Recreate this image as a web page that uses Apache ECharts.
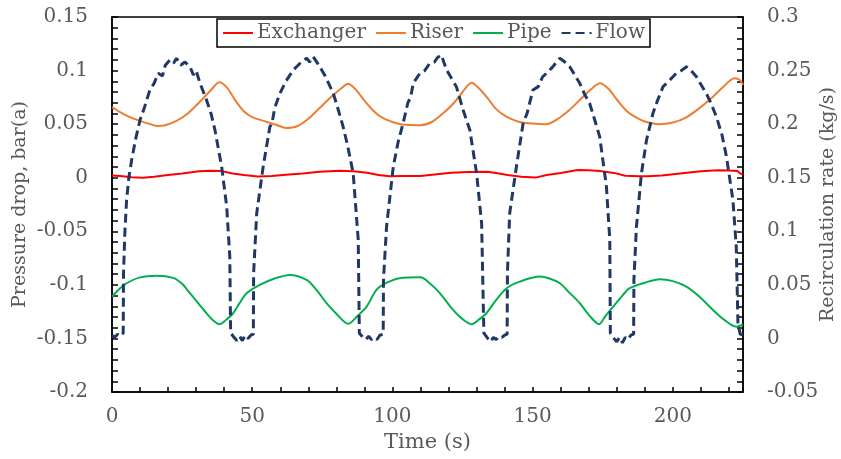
<!DOCTYPE html>
<html>
<head>
<meta charset="utf-8">
<script src="https://cdn.jsdelivr.net/npm/echarts@6/dist/echarts.min.js"></script>
<style>
  html, body { margin: 0; padding: 0; background: #fff; }
  #main { width: 841px; height: 459px; }
</style>
</head>
<body>
<div id="main"></div>
<script>
// [time (s), value]
var exchanger = [[0,0.002],[3,0.0015],[7,0.0005],[11,0.0],[15,0.001],[20,0.0025],[25,0.004],[31,0.006],[35,0.0065],[39,0.0062],[43,0.004],[47,0.0025],[52,0.0012],[57,0.0015],[62,0.0028],[68,0.004],[74,0.0055],[81,0.0066],[86,0.006],[91,0.0047],[95,0.0025],[99,0.0013],[104,0.0015],[110,0.0016],[115,0.003],[121,0.0047],[127,0.0054],[134,0.0055],[138,0.004],[141,0.0026],[146,0.001],[151,0.0001],[155,0.0026],[160,0.0045],[166,0.0072],[170,0.007],[174,0.0063],[179,0.0045],[183,0.0018],[188,0.0013],[191,0.0013],[196,0.002],[201,0.0035],[205,0.0047],[210,0.006],[216,0.007],[220,0.0068],[223,0.0063],[224,0.004],[225,0.0026]];

var riser = [[0,0.066],[3,0.061],[6,0.057],[10,0.053],[13,0.0505],[16,0.0483],[19,0.049],[23,0.053],[27,0.06],[31,0.07],[35,0.081],[38.3,0.089],[41,0.084],[44,0.072],[47,0.062],[50,0.0565],[55,0.0523],[59,0.049],[62,0.0464],[66,0.048],[70,0.055],[74,0.065],[78,0.075],[82,0.084],[84.2,0.0878],[87,0.082],[90,0.072],[93,0.063],[96,0.0565],[100,0.052],[103,0.05],[107,0.0492],[110,0.049],[114,0.052],[118,0.06],[122,0.07],[125,0.08],[128.2,0.0887],[131,0.083],[134,0.074],[137,0.064],[140.6,0.057],[145,0.0523],[150,0.0505],[155,0.05],[159,0.055],[163,0.063],[167,0.073],[171,0.083],[174,0.0881],[177,0.083],[180,0.073],[183.4,0.0626],[187,0.056],[190,0.0525],[195,0.05],[200,0.0515],[204.8,0.0564],[209,0.064],[214.3,0.0756],[218,0.085],[222,0.0928],[224,0.091],[225,0.0866]];

var pipe = [[0,-0.111],[2.5,-0.104],[5.2,-0.0985],[10,-0.093],[15.9,-0.0914],[21.8,-0.0935],[25,-0.099],[27.8,-0.1078],[31,-0.118],[33.7,-0.1265],[36,-0.133],[38.3,-0.1367],[40.5,-0.133],[43.2,-0.1265],[45.5,-0.117],[48,-0.1078],[52.7,-0.1],[58,-0.094],[63.4,-0.0907],[69.4,-0.0954],[73,-0.105],[76.5,-0.1171],[80,-0.127],[84.2,-0.1364],[87.5,-0.129],[90.8,-0.1203],[94.3,-0.1047],[98,-0.098],[102.6,-0.0938],[110,-0.093],[113.5,-0.099],[116.9,-0.1078],[121.6,-0.1234],[125,-0.132],[128.2,-0.1367],[131,-0.132],[133.5,-0.1265],[137,-0.114],[140.7,-0.1031],[145.4,-0.097],[152.5,-0.0923],[156,-0.094],[159.7,-0.0985],[163,-0.107],[166.8,-0.1171],[170,-0.128],[173.7,-0.1367],[176,-0.129],[178.7,-0.1203],[182,-0.11],[184.6,-0.1031],[190,-0.098],[195.3,-0.0947],[200,-0.0965],[204.8,-0.1016],[209,-0.11],[214.3,-0.1234],[218,-0.132],[222.6,-0.139],[225,-0.137]];

var flow = [[0,0.003],[1,0.001],[2,0.004],[3,0.002],[4,0.005],[4.1,0.06],[4.6,0.1],[5.2,0.129],[6,0.15],[7,0.1666],[8.5,0.187],[10,0.2039],[11.5,0.215],[13.5,0.2319],[15,0.238],[16.5,0.2475],[18,0.245],[19,0.255],[20.7,0.26],[22,0.257],[23,0.2615],[24.5,0.255],[26,0.258],[27.8,0.2536],[29,0.246],[30,0.25],[31.4,0.2381],[33.7,0.2226],[35.3,0.21],[36.7,0.1946],[39.1,0.1603],[40.9,0.123],[42,0.0764],[42.3,0.0052],[43.5,0.001],[44.5,-0.002],[45.5,0.002],[46.5,-0.002],[47.5,0.003],[48.5,0.0],[49.5,0.003],[50.4,0.004],[50.5,0.061],[51.6,0.1168],[53.9,0.1603],[56.3,0.1977],[57,0.2],[58,0.215],[59.9,0.2288],[62,0.24],[64.6,0.2505],[66,0.254],[67.5,0.258],[69.4,0.2615],[70.5,0.258],[71.7,0.263],[72.5,0.26],[74.1,0.2536],[76,0.245],[78.9,0.2288],[80.5,0.215],[82.4,0.1977],[84,0.18],[86,0.1542],[87.8,0.092],[88.2,0.0049],[89.5,0.001],[90.5,-0.001],[91.5,0.002],[92.5,-0.001],[93.5,0.001],[94.5,-0.001],[95.5,0.003],[96.7,0.004],[96.8,0.0546],[97.9,0.1043],[100.3,0.1603],[102,0.183],[103.8,0.2008],[105.5,0.22],[106.5,0.225],[107.4,0.2381],[109.8,0.2475],[111.5,0.25],[113.3,0.2568],[115,0.258],[116,0.262],[117.5,0.2645],[118.3,0.258],[119.3,0.2506],[121,0.243],[122.8,0.235],[125.2,0.2132],[127.6,0.1946],[130,0.1542],[131.8,0.1075],[132.6,0.0049],[134,0.0],[135,-0.003],[136,0.001],[137,-0.001],[138,0.002],[139,0.001],[140,0.003],[140.9,0.004],[141,0.061],[141.8,0.1168],[144.2,0.1603],[146.6,0.2008],[148,0.21],[150.1,0.2319],[152,0.235],[153.5,0.244],[154.9,0.2475],[157,0.253],[158.5,0.258],[159.7,0.2615],[161,0.259],[163.2,0.2536],[165,0.246],[166.8,0.2381],[168.5,0.228],[170.3,0.2195],[172,0.205],[173.9,0.1883],[176.3,0.1417],[177.5,0.092],[177.7,0.0049],[179,0.0],[180,-0.003],[181,0.001],[182,-0.004],[183,0.001],[184,-0.001],[185,0.003],[186,0.004],[186.1,0.0546],[187,0.1043],[188.8,0.1542],[190.6,0.1852],[192.9,0.2101],[194.5,0.222],[196.5,0.235],[198.5,0.24],[201.2,0.2475],[203,0.25],[204.8,0.2536],[206.5,0.25],[208.4,0.2443],[210,0.237],[211.9,0.2288],[213.5,0.22],[215.5,0.207],[217.5,0.19],[219.1,0.1697],[221.4,0.1293],[222.6,0.0857],[223.2,0.014],[224,0.004],[225,0.003]];

var seriesNames = ['Exchanger', 'Riser', 'Pipe', 'Flow'];

var font = 'DejaVu Serif';
var grey = '#595959';

function fmt(v) {
    return String(Math.round(v * 100) / 100);
}

var myChart = echarts.init(document.getElementById('main'));

var yCommon = {
    type: 'value',
    interval: 0.05,
    nameLocation: 'middle',
    nameRotate: 90,
    nameMoveOverlap: false,
    nameTextStyle: { fontFamily: font, fontSize: 19, color: grey },
    axisLine: { show: true, lineStyle: { color: '#000', width: 1.5 } },
    axisTick: { show: true, inside: true, length: 6, lineStyle: { color: '#000', width: 1.5 } },
    minorTick: { show: true, splitNumber: 5, length: 6, lineStyle: { color: '#000', width: 1.5 } },
    axisLabel: { fontFamily: font, fontSize: 20, color: grey, margin: 24, formatter: fmt },
    splitLine: { show: false }
};

var option = {
    animation: false,
    grid: {
        left: 112, right: 98, top: 17, bottom: 67,
        outerBoundsMode: 'none',
        containLabel: false,
        show: true, borderColor: '#000', borderWidth: 1.5
    },
    legend: {
        data: seriesNames,
        left: 217, top: 19,
        padding: [4, 5],
        itemWidth: 30, itemHeight: 14, itemGap: 9,
        borderColor: '#000', borderWidth: 1.5,
        backgroundColor: '#fff',
        itemStyle: { opacity: 0 },
        textStyle: { fontFamily: font, fontSize: 20, color: grey, padding: [0, 0, 0, -1] }
    },
    xAxis: {
        type: 'value',
        min: 0, max: 225, interval: 10,
        name: 'Time (s)',
        nameLocation: 'middle',
        nameGap: 40,
        nameMoveOverlap: false,
        nameTextStyle: { fontFamily: font, fontSize: 21, color: grey },
        axisLine: { show: true, onZero: false, lineStyle: { color: '#000', width: 1.5 } },
        axisTick: { show: true, inside: true, length: 5, lineStyle: { color: '#000', width: 1.5 } },
        axisLabel: {
            fontFamily: font, fontSize: 20, color: grey, margin: 15,
            formatter: function (v) { return v % 50 === 0 ? String(v) : ''; }
        },
        splitLine: { show: false }
    },
    yAxis: [
        Object.assign({}, yCommon, {
            position: 'left', min: -0.2, max: 0.15,
            name: 'Pressure drop, bar(a)', nameGap: 82
        }),
        Object.assign({}, yCommon, {
            position: 'right', min: -0.05, max: 0.3,
            name: 'Recirculation rate (kg/s)', nameGap: 76
        })
    ],
    series: [{
        name: 'Exchanger', type: 'line', data: exchanger, symbol: 'none',
        lineStyle: { color: '#ff0000', width: 2 }, itemStyle: { color: '#ff0000' }
    }, {
        name: 'Riser', type: 'line', data: riser, symbol: 'none', smooth: 0.3,
        lineStyle: { color: '#ed7d31', width: 2 }, itemStyle: { color: '#ed7d31' }
    }, {
        name: 'Pipe', type: 'line', data: pipe, symbol: 'none', smooth: 0.3,
        lineStyle: { color: '#00b050', width: 2 }, itemStyle: { color: '#00b050' }
    }, {
        name: 'Flow', type: 'line', data: flow, symbol: 'none', yAxisIndex: 1,
        lineStyle: { color: '#1f3864', width: 3, type: [9, 5] }, itemStyle: { color: '#1f3864' }
    }]
};

myChart.setOption(option);
</script>
</body>
</html>
